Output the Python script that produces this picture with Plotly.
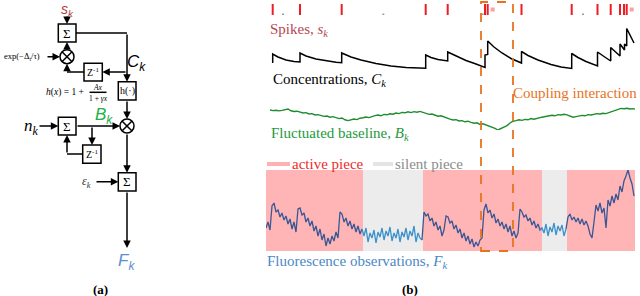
import plotly.graph_objects as go

W, H = 640, 296

# ---------------- data (time axis in samples) ----------------
spike_t = [6.7, 34, 75.7, 159.7, 181.7, 219, 221.7, 255.5, 305.7, 331.5, 344.7, 354, 358, 360.7]
spike_amp = [1] * len(spike_t)
tiny_spike_t = [17, 117.3, 216.7, 317]
tiny_spike_amp = [0.04, 0.04, 0.04, 0.04]
clipped_spike_t = [226.7, 365.7]
clipped_spike_amp = [0.5, 0.5]

conc_t = [6.7, 6.7, 12, 20, 28, 34, 34, 40, 50, 60, 70, 75.7, 75.7, 85, 95, 110, 125, 140, 159.7,
          159.7, 165, 172, 181.7, 181.7, 190, 200, 210, 219, 219, 221.7, 221.7, 228, 236, 245, 255.5,
          255.5, 262, 272, 285, 295, 305.7, 305.7, 312, 320, 331.5, 331.5, 338, 344.7, 344.7, 349,
          354, 354, 358.5, 358.5, 360.7, 360.7, 364, 368]
conc_val = [7, 16, 13, 10, 8.5, 8, 17, 14, 11, 9, 7.7, 7.3, 17, 13, 10, 6.5, 4, 2.5, 1.7,
            15, 12.5, 10.5, 9, 18, 14, 9.5, 6, 2.5, 15, 15.5, 29, 23, 17, 11.5, 7,
            18.5, 14.5, 10, 5.5, 3, 1.5, 16.5, 12.5, 8.5, 4, 18, 13.5, 9, 22.5, 18.5,
            14, 26, 20, 26, 24, 41.5, 35, 27]

base_t = list(range(4, 371, 3))
base_val = [20.0, 19.4, 19.8, 19.1, 19.6, 20.2, 21.0, 19.2, 18.5, 18.8, 17.6, 17.0, 17.4, 16.0, 16.4,
            15.0, 15.4, 14.2, 13.6, 14.0, 12.8, 13.4, 12.2, 11.4, 12.0, 10.2, 9.4, 10.0, 11.0, 10.4,
            11.8, 12.2, 13.0, 12.4, 13.8, 14.4, 15.0, 14.2, 15.6, 15.2, 16.2, 15.8, 17.0, 16.4, 17.6,
            17.2, 18.2, 17.4, 18.4, 17.8, 18.6, 17.4, 16.4, 15.6, 16.0, 14.6, 13.8, 14.2, 12.8, 12.2,
            10.8, 10.0, 10.4, 9.0, 9.4, 8.2, 8.8, 7.6, 6.8, 7.2, 5.6, 6.2, 5.2, 4.0, 2.8,
            1.6, 0.0, 1.4, 3.0, 4.4, 7.0, 8.8, 9.4, 10.2, 9.6, 10.6, 10.2, 11.4, 10.8, 12.0,
            12.4, 13.0, 13.8, 14.2, 14.8, 14.2, 15.4, 15.0, 15.8, 15.2, 14.0, 12.8, 13.4, 14.0, 14.6,
            14.2, 15.4, 15.0, 15.8, 16.4, 16.0, 16.8, 16.4, 17.6, 18.2, 19.4, 20.8, 21.6, 21.2, 21.8,
            21.0, 21.4, 20.6]

fluo_t = list(range(0, 369, 2))
fluo_val = [
    # active 1
    23, 29, 21, 45, 48, 39, 41, 34, 38, 31, 35, 27, 32, 22, 29, 19, 42, 43, 36, 38,
    29, 33, 25, 30, 20, 25, 15, 22, 11, 17, 5, 13, 7, 15, 10, 19, 13, 39, 37, 29,
    33, 25, 30, 22, 27, 19, 25, 17, 22,
    # silent 1
    15, 23, 9, 18, 13, 21, 8, 19, 14, 23, 11, 20, 15, 24, 10, 18, 13, 22, 9, 19,
    14, 23, 11, 20, 15, 25, 9, 18, 13, 11,
    # active 2
    39, 35, 37, 30, 33, 25, 29, 21, 25, 15, 21, 35, 34, 28, 30, 22, 26, 18, 22, 13,
    18, 10, 15, 7, 12, 4, 9, 5, 11, 13, 41, 47, 38, 41, 33, 37, 28, 32, 25, 29,
    22, 27, 19, 25, 15, 20, 13, 18, 42, 39, 34, 36, 30, 33, 26, 30, 23, 27, 21,
    # silent 2
    23, 18, 27, 15, 24, 19, 28, 16, 25, 20, 26, 15, 22,
    # active 3
    34, 37, 31, 34, 29, 33, 27, 32, 26, 30, 25, 17, 13, 29, 46, 40, 48, 38, 43, 23,
    51, 45, 55, 48, 57, 51, 65, 59, 70, 75, 81, 73, 67, 55]

pieces = [(0, 97, "active"), (97, 157, "silent"), (157, 276, "active"),
          (276, 301, "silent"), (301, 369, "active")]
coupling_window = (215, 247)

# ---------------- helpers ----------------
def px(x):
    return x / W

def py(y):
    return 1 - y / H

SERIF = "Times New Roman, Liberation Serif, serif"
SANS = "Liberation Sans, Arial, sans-serif"
fig = go.Figure()

# spikes
sx, sy = [], []
for t, a in zip(spike_t, spike_amp):
    sx += [t, t, None]
    sy += [0, a, None]
fig.add_trace(go.Scatter(x=sx, y=sy, mode="lines", line=dict(color="#ee1c25", width=2),
                         xaxis="x", yaxis="y", hoverinfo="skip"))
fig.add_trace(go.Scatter(x=tiny_spike_t, y=tiny_spike_amp, mode="markers",
                         marker=dict(color="#999999", size=2, symbol="square"),
                         xaxis="x", yaxis="y", hoverinfo="skip"))
fig.add_trace(go.Scatter(x=clipped_spike_t, y=clipped_spike_amp, mode="markers",
                         marker=dict(color="#f7a3a3", size=4, symbol="square"),
                         xaxis="x", yaxis="y", hoverinfo="skip"))
# concentration
fig.add_trace(go.Scatter(x=conc_t, y=conc_val, mode="lines", line=dict(color="black", width=1.5),
                         xaxis="x", yaxis="y2", hoverinfo="skip"))
# baseline
fig.add_trace(go.Scatter(x=base_t, y=base_val, mode="lines", line=dict(color="#1e8c2e", width=1.4),
                         xaxis="x", yaxis="y3", hoverinfo="skip"))
# fluorescence, coloured by piece
for (a, b, kind) in pieces:
    xs = [t for t in fluo_t if a - 2 <= t <= b]
    ys = [v for t, v in zip(fluo_t, fluo_val) if a - 2 <= t <= b]
    col = "#3a5795" if kind == "active" else "#3b91cc"
    fig.add_trace(go.Scatter(x=xs, y=ys, mode="lines", line=dict(color=col, width=1.3),
                             xaxis="x", yaxis="y4", hoverinfo="skip"))

shapes = []
for (a, b, kind) in pieces:
    shapes.append(dict(type="rect", xref="x", yref="y4", x0=a, x1=b, y0=0, y1=81,
                       fillcolor="#ffb5b5" if kind == "active" else "#ececec",
                       line=dict(width=0), layer="below"))
shapes.append(dict(type="rect", xref="x", yref="paper", x0=coupling_window[0], x1=coupling_window[1],
                   y0=py(251), y1=py(2), line=dict(color="#e8731e", width=1.8, dash="dash")))

ann = []

def text(x, y, s, size=15, color="black", family=SERIF, xanchor="center", **kw):
    ann.append(dict(x=px(x), y=py(y), xref="paper", yref="paper", text=s, showarrow=False,
                    xanchor=xanchor, yanchor="middle", font=dict(size=size, color=color, family=family), **kw))

# right-panel labels
text(268, 30, "Spikes, <i>s</i><sub><i>k</i></sub>", color="#b5484f", xanchor="left")
text(271, 80, "Concentrations, <i>C</i><sub><i>k</i></sub>", xanchor="left")
text(511, 93, "Coupling interaction", color="#e8731e", xanchor="left")
text(269, 134, "Fluctuated baseline, <i>B</i><sub><i>k</i></sub>", color="#1e9a3c", xanchor="left")
text(265, 262, "Fluorescence observations, <i>F</i><sub><i>k</i></sub>", color="#4b87c6", xanchor="left")
text(290, 164, "active piece", color="#ee2a2a", xanchor="left")
text(393, 164, "silent piece", color="#8c8c8c", xanchor="left")
shapes.append(dict(type="line", xref="paper", yref="paper", x0=px(267), x1=px(290), y0=py(164), y1=py(164),
                   line=dict(color="#ffb0b0", width=4)))
shapes.append(dict(type="line", xref="paper", yref="paper", x0=px(373), x1=px(393), y0=py(164), y1=py(164),
                   line=dict(color="#e4e4e4", width=4)))
text(410, 289, "<b>(b)</b>", size=13)
text(100, 289, "<b>(a)</b>", size=13)

# ---------------- block diagram (a) ----------------
def box(x0, y0, x1, y1, label, size=12):
    shapes.append(dict(type="rect", xref="paper", yref="paper", x0=px(x0), x1=px(x1), y0=py(y1), y1=py(y0),
                       line=dict(color="black", width=1.5), fillcolor="white"))
    text((x0 + x1) / 2, (y0 + y1) / 2, label, size=size)

def line(x0, y0, x1, y1):
    shapes.append(dict(type="line", xref="paper", yref="paper", x0=px(x0), x1=px(x1), y0=py(y0), y1=py(y1),
                       line=dict(color="black", width=1.5)))

def arrow(x0, y0, x1, y1):
    ann.append(dict(x=px(x1), y=py(y1), xref="paper", yref="paper", ax=x0 - x1, ay=y0 - y1,
                    text="", showarrow=True, arrowhead=2, arrowsize=1, arrowwidth=1.5,
                    arrowcolor="black", standoff=0))

def mult(cx, cy, r=7):
    shapes.append(dict(type="circle", xref="paper", yref="paper", x0=px(cx - r), x1=px(cx + r),
                       y0=py(cy + r), y1=py(cy - r), line=dict(color="black", width=1.5), fillcolor="white"))
    d = r * 0.68
    line(cx - d, cy - d, cx + d, cy + d)
    line(cx - d, cy + d, cx + d, cy - d)

# lines and arrows
arrow(67, 15, 67, 24)
line(76, 33, 127, 33)
arrow(127, 33, 127, 81.7)
arrow(127, 72, 102.3, 72)
line(84, 72, 67, 72)
arrow(67, 72, 67, 63.7)
arrow(67, 49.7, 67, 42)
arrow(46, 56.7, 60, 56.7)
arrow(127, 100, 127, 119)
arrow(38, 126, 58.3, 126)
arrow(76, 126, 120, 126)
arrow(92, 126, 92, 145)
line(82.7, 154, 67, 154)
arrow(67, 154, 67, 135)
arrow(127, 133, 127, 172.7)
arrow(95, 181.7, 118.3, 181.7)
arrow(127, 191, 127, 248)

box(58.3, 24, 76, 42, "Σ", 13)
box(84, 63.3, 102.3, 81, "Z<sup>-1</sup>", 10)
box(118.3, 81.7, 136, 100, "h(·)", 10)
box(58.3, 117.3, 76, 135, "Σ", 13)
box(82.7, 145, 101, 163.3, "Z<sup>-1</sup>", 10)
box(118.3, 172.7, 136, 191, "Σ", 13)
mult(67, 56.7)
mult(127, 126)

text(67, 9.5, "<i>s</i><sub><i>k</i></sub>", size=14, color="#b23a3a", family=SANS)
text(136, 63, "<i>C</i><sub><i>k</i></sub>", size=17, family=SANS)
text(104, 116, "<i>B</i><sub><i>k</i></sub>", size=17, color="#22b04a", family=SANS)
text(31, 126.5, "<i>n</i><sub><i>k</i></sub>", size=17, family=SERIF)
text(86, 181.7, "<i>ε</i><sub><i>k</i></sub>", size=12, color="#333333")
text(126, 261.5, "<i>F</i><sub><i>k</i></sub>", size=17, color="#5b8fd0", family=SANS)
text(22, 56.5, "exp(−Δ<sub>t</sub>/τ)", size=8.5)
text(65, 92.3, "<i>h</i>(<i>x</i>) = 1 +", size=9.5)
text(98, 87.3, "<i>Ax</i>", size=7.5)
line(89.5, 92.3, 106.5, 92.3)
text(98, 98, "1 + <i>γx</i>", size=7.5)

hidden = dict(visible=False, showgrid=False, zeroline=False, fixedrange=True)
fig.update_layout(
    width=W, height=H, margin=dict(l=0, r=0, t=0, b=0),
    paper_bgcolor="white", plot_bgcolor="rgba(0,0,0,0)", showlegend=False,
    xaxis=dict(domain=[px(266), px(635)], range=[0, 369], anchor="y", **hidden),
    yaxis=dict(domain=[py(15), py(4)], range=[0, 1], anchor="x", **hidden),
    yaxis2=dict(domain=[py(70), py(25)], range=[0, 45], anchor="x", **hidden),
    yaxis3=dict(domain=[py(130), py(100)], range=[0, 30], anchor="x", **hidden),
    yaxis4=dict(domain=[py(251), py(170)], range=[0, 81], anchor="x", **hidden),
    shapes=shapes, annotations=ann,
)
fig.write_html("out.html", config={"displayModeBar": False},
               post_script="document.body.style.margin='0';document.body.style.overflow='hidden';")
